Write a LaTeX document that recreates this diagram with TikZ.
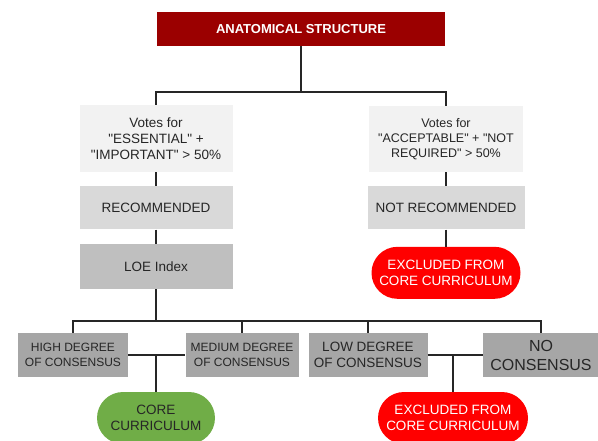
\documentclass[tikz,border=0pt]{standalone}
\usepackage{fontspec}
\setmainfont{Liberation Sans}[Ligatures=TeXOff]
\definecolor{anatred}{RGB}{155,0,0}
\definecolor{paleg}{RGB}{242,242,242}
\definecolor{lightg}{RGB}{217,217,217}
\definecolor{midg}{RGB}{191,191,191}
\definecolor{darkg}{RGB}{166,166,166}
\definecolor{inkg}{RGB}{38,38,38}
\definecolor{corered}{RGB}{255,0,0}
\definecolor{coregreen}{RGB}{112,173,71}
\usetikzlibrary{positioning}

\begin{document}
\begin{tikzpicture}[x=1pt, y=-1pt,
      node distance=14pt,
      box/.style={fill=lightg, text=inkg, align=center, inner sep=2pt,
                  minimum width=153pt, minimum height=43pt,
                  font=\fontsize{13.5}{16}\selectfont},
      grade/.style={box, fill=darkg, minimum height=44pt,
                  font=\fontsize{12}{14.5}\selectfont},
      pill/.style={fill=corered, text=white, rounded corners=26pt, align=center,
                  minimum width=150pt, minimum height=52pt,
                  font=\fontsize{13.5}{16}\selectfont},
      link/.style={draw=inkg, line width=1.4pt}]
    \useasboundingbox (0,0) rectangle (598,440);
    % top
    \node[box, fill=anatred, text=white, minimum width=288pt, minimum height=34pt,
          font=\fontsize{13}{15}\selectfont\bfseries] (anat) at (301,29) {ANATOMICAL STRUCTURE};
    % left branch
    \node[box, fill=paleg, minimum height=67pt, font=\fontsize{13.5}{16}\selectfont]
          (votesl) at (156,138.5) {Votes for\\ "ESSENTIAL" +\\ "IMPORTANT" > 50\%};
    \node[box, below=of votesl] (recom) {RECOMMENDED};
    \node[box, fill=midg, minimum height=45pt, below=of recom] (loe) {LOE Index};
    % right branch
    \node[box, fill=paleg, minimum width=154pt, minimum height=66pt, font=\fontsize{12.5}{15}\selectfont]
          (votesr) at (446,139) {Votes for\\ "ACCEPTABLE" + "NOT\\ REQUIRED" > 50\%};
    \node[box, minimum width=157pt, below=of votesr] (notrec) {NOT RECOMMENDED};
    \node[pill, minimum width=149pt, below=17pt of notrec] (exclr) {EXCLUDED FROM\\ CORE CURRICULUM};
    % consensus levels
    \node[grade, minimum width=110pt] (high) at (73,355) {HIGH DEGREE\\ OF CONSENSUS};
    \node[grade, minimum width=113pt] (medium) at (242,355) {MEDIUM DEGREE\\ OF CONSENSUS};
    \node[grade, minimum width=119pt, font=\fontsize{13.5}{16}\selectfont]
          (low) at (368,355) {LOW DEGREE\\ OF CONSENSUS};
    \node[grade, minimum width=116pt, font=\fontsize{16}{19}\selectfont]
          (nocons) at (541,355) {NO\\ CONSENSUS};
    \node[pill, fill=coregreen, text=inkg, minimum width=118pt] (core) at (156,418) {CORE\\ CURRICULUM};
    \node[pill] (exclb) at (453,418) {EXCLUDED FROM\\ CORE CURRICULUM};
    % connectors
    \coordinate (jtop) at (301,92);
    \coordinate (jbot) at (156,321);
    \draw[link] (anat) -- (jtop);
    \draw[link] (votesl.north) |- (jtop) -| (votesr.north);
    \draw[link] (votesl) -- (recom);
    \draw[link] (recom) -- (loe);
    \draw[link] (votesr) -- (notrec);
    \draw[link] (notrec) -- (exclr);
    \draw[link] (loe) -- (jbot);
    \draw[link] (high.north) |- (jbot) -| (nocons.north);
    \draw[link] (medium.north) -- (medium.north |- jbot);
    \draw[link] (low.north) -- (low.north |- jbot);
    \draw[link] (high.east) -- (medium.west);
    \draw[link] (core.north |- high.east) -- (core.north);
    \draw[link] (low.east) -- (nocons.west);
    \draw[link] (exclb.north |- low.east) -- (exclb.north);
  \end{tikzpicture}
\end{document}
